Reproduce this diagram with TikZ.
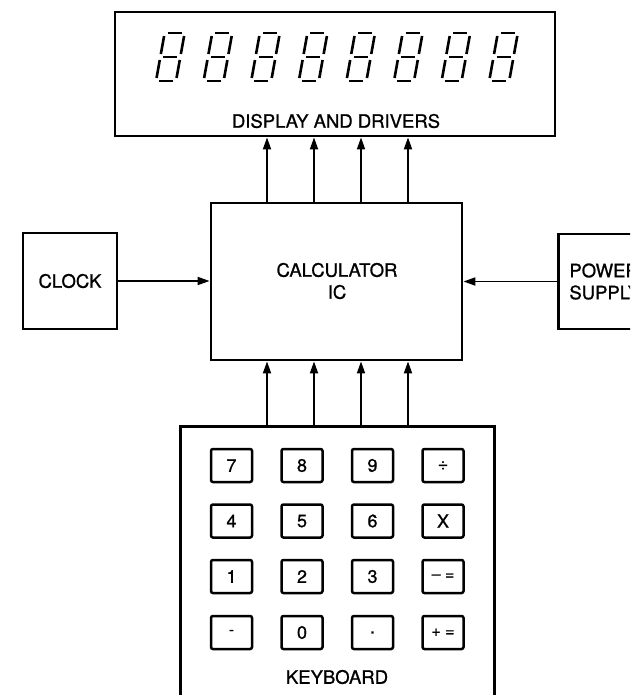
\documentclass[tikz,border=0pt]{standalone}
\usepackage{fontspec}
\setmainfont{TeX Gyre Heros}[BoldFont={TeX Gyre Heros}, BoldFeatures={FakeBold=0.9}]
\usetikzlibrary{arrows.meta}
\begin{document}
\begin{tikzpicture}[x=1pt,y=-1pt,
  blk/.style={draw, line width=2.8pt, inner sep=0pt, align=center, font=\fontsize{18.5}{22}\selectfont\bfseries},
  lbl/.style={inner sep=0pt, align=center, font=\fontsize{18.5}{22}\selectfont\bfseries},
  keybox/.style={draw, line width=2.5pt, rounded corners=2pt, minimum width=41pt, minimum height=33pt, inner sep=0pt, font=\fontsize{18}{18}\selectfont\bfseries},
  smallkey/.style={keybox, font=\fontsize{16}{16}\selectfont\bfseries},
  arr/.style={line width=1.8pt, -{Triangle[length=12pt,width=8pt]}},
  seg/.style={line width=2.6pt}]
\useasboundingbox (0,0) rectangle (630,695);
\clip (0,0) rectangle (630,695);
\fill[white] (0,0) rectangle (630,695);

% display
\node[blk, minimum width=440pt, minimum height=124pt] (disp) at (335,74) {};
\node[lbl] (displbl) at (336,121) {DISPLAY AND DRIVERS};
\foreach \d in {0,...,7} {
  \pgfmathsetmacro\xo{156+47.6*\d}
  \foreach \ua/\va/\ub/\vb in {3/48/17/48, 20/45/20/27, 20/21/20/3, 3/0/17/0, 0/21/0/3, 0/45/0/27, 3/24/17/24}
    \draw[seg] ({\xo+\ua+0.18*\va},{81-\va}) -- ({\xo+\ub+0.18*\vb},{81-\vb});
}

% calculator
\node[blk, minimum width=251pt, minimum height=157pt] (calc) at (336.5,281.5) {};
\node[lbl] (calclbl) at (337,281) {CALCULATOR\\IC};

% clock and power
\node[blk, minimum width=94pt, minimum height=96pt] (clock) at (70,281) {CLOCK};
\node[blk, anchor=west, text width=100pt, align=left, inner xsep=11pt, minimum height=95pt] (power) at (557,281.5) {POWER\\SUPPLY};

% keyboard
\node[blk, minimum width=314pt, minimum height=310pt, anchor=north west] (kbd) at (179,425) {};
\node[lbl] (kbdlbl) at (337,677) {KEYBOARD};

\node[keybox] (k7) at (231.5,465.5) {7};
\node[keybox] (k8) at (302,465.5) {8};
\node[keybox] (k9) at (372.5,465.5) {9};
\node[keybox] (kdiv) at (443,465.5) {÷};
\node[keybox] (k4) at (231.5,521) {4};
\node[keybox] (k5) at (302,521) {5};
\node[keybox] (k6) at (372.5,521) {6};
\node[keybox] (kmul) at (443,521) {X};
\node[keybox] (k1) at (231.5,576.5) {1};
\node[keybox] (k2) at (302,576.5) {2};
\node[keybox] (k3) at (372.5,576.5) {3};
\node[smallkey] (kmeq) at (443,576.5) {– =};
\node[smallkey] (kneg) at (231.5,632.5) {-};
\node[keybox] (k0) at (302,632.5) {0};
\node[keybox] (kdot) at (372.5,632.5) {.};
\node[smallkey] (kpeq) at (443,632.5) {+ =};

% connectors
\foreach \i/\xx in {1/267,2/314,3/361,4/408} {
  \coordinate (a\i) at (\xx,0);
  \draw[arr] (calc.north -| a\i) -- (disp.south -| a\i);
  \draw[arr] (kbd.north -| a\i) -- (calc.south -| a\i);
}
\draw[arr] (clock.east) -- (calc.west |- clock.east);
\draw[arr] (power.west) -- (calc.east |- power.west);
\end{tikzpicture}
\end{document}
